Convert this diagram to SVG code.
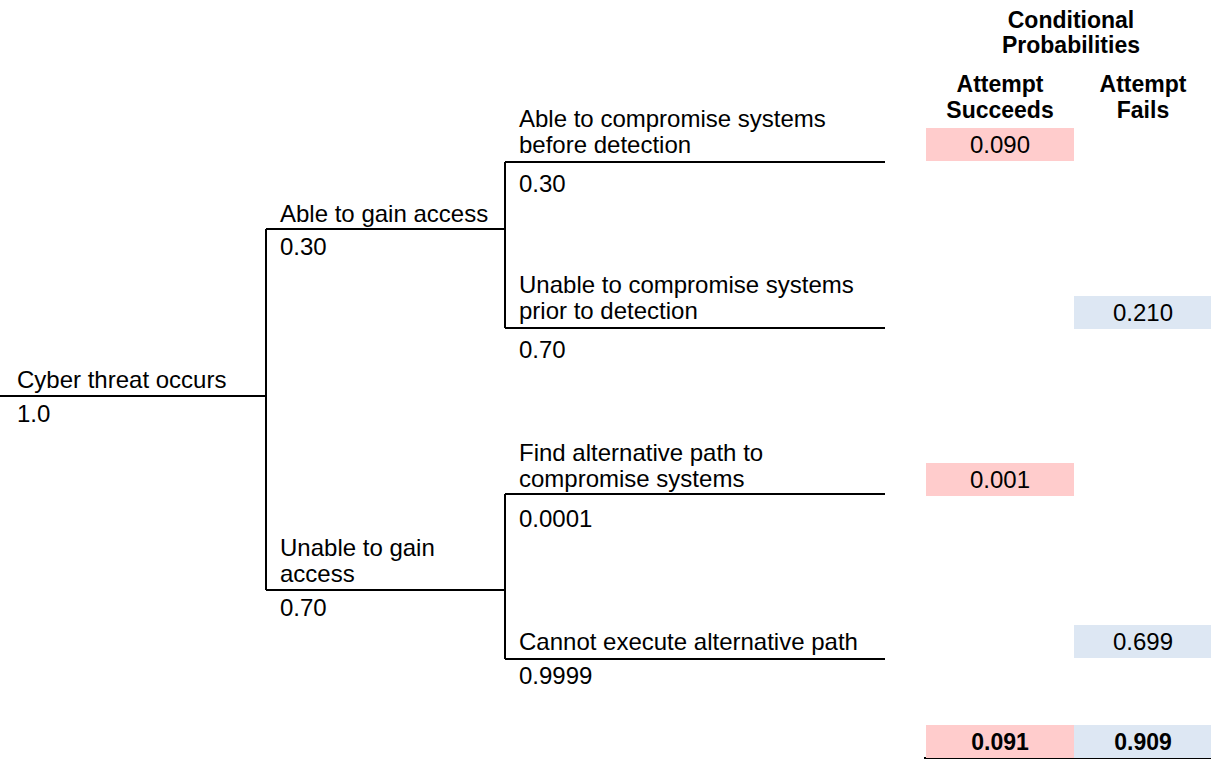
<svg xmlns="http://www.w3.org/2000/svg" width="1211" height="759" viewBox="0 0 1211 759">
<style>
text{font-family:"Liberation Sans",Arial,sans-serif;font-size:24px;fill:#000}
.b{font-weight:bold;font-size:23px}
.c{text-anchor:middle}
.ln{stroke:#000;stroke-width:2;fill:none}
.s{fill:#FFCCCC}
.f{fill:#DDE7F3}
</style>
<rect width="1211" height="759" fill="#fff"/>
<g id="connectors">
<path class="ln" d="M0 396H266M266 229V590M266 229H505M266 590H505M505 162V328M505 162H885M505 328H885M505 494V659M505 494H885M505 659H885"/>
<path class="ln" d="M924 758H1211"/>
</g>
<g id="root"><text x="17" y="388">Cyber threat occurs</text><text x="17" y="422">1.0</text></g>
<g id="gain"><text x="280" y="222">Able to gain access</text><text x="280" y="255">0.30</text></g>
<g id="nogain"><text x="280" y="556">Unable to gain</text><text x="280" y="582">access</text><text x="280" y="616">0.70</text></g>
<g id="compromise"><text x="519" y="127">Able to compromise systems</text><text x="519" y="153">before detection</text><text x="519" y="192">0.30</text></g>
<g id="nocompromise"><text x="519" y="293">Unable to compromise systems</text><text x="519" y="319">prior to detection</text><text x="519" y="358">0.70</text></g>
<g id="altpath"><text x="519" y="461">Find alternative path to</text><text x="519" y="487">compromise systems</text><text x="519" y="527">0.0001</text></g>
<g id="noalt"><text x="519" y="650">Cannot execute alternative path</text><text x="519" y="684">0.9999</text></g>
<g id="header">
<text class="b c" x="1071" y="28">Conditional</text>
<text class="b c" x="1071" y="53">Probabilities</text>
<text class="b c" x="1000" y="92">Attempt</text>
<text class="b c" x="1000" y="118">Succeeds</text>
<text class="b c" x="1143" y="92">Attempt</text>
<text class="b c" x="1143" y="118">Fails</text>
</g>
<g id="v1"><rect class="s" x="926" y="128" width="148" height="33"/><text class="c" x="1000" y="153">0.090</text></g>
<g id="v2"><rect class="f" x="1074" y="296" width="137" height="33"/><text class="c" x="1143" y="321">0.210</text></g>
<g id="v3"><rect class="s" x="926" y="463" width="148" height="33"/><text class="c" x="1000" y="488">0.001</text></g>
<g id="v4"><rect class="f" x="1074" y="625" width="137" height="33"/><text class="c" x="1143" y="650">0.699</text></g>
<g id="totals"><rect class="s" x="926" y="725" width="148" height="33"/><rect class="f" x="1074" y="725" width="137" height="33"/><text class="b c" x="1000" y="750">0.091</text><text class="b c" x="1143" y="750">0.909</text></g>
</svg>
